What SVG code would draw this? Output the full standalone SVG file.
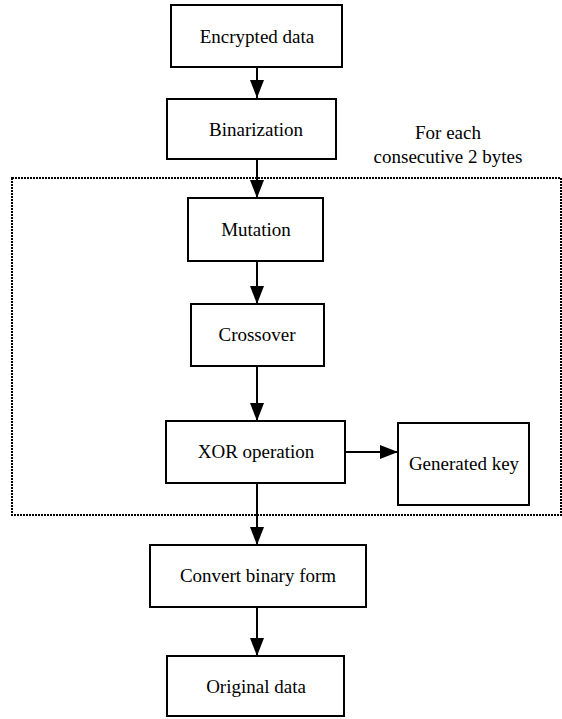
<svg xmlns="http://www.w3.org/2000/svg" width="562" height="719" viewBox="0 0 562 719">
<defs>
<marker id="ah" markerUnits="userSpaceOnUse" markerWidth="18" markerHeight="14" refX="18" refY="7" orient="auto">
<path d="M0,0 L18,7 L0,14 Z" fill="#000"/>
</marker>
<style>
.box{fill:#fff;stroke:#000;stroke-width:2}
.c{stroke:#000;stroke-width:2;fill:none;marker-end:url(#ah)}
.dot{fill:none;stroke:#000;stroke-width:2;stroke-dasharray:2 1}
</style>
</defs>
<rect width="562" height="719" fill="#fff"/>
<g font-family="'Liberation Serif', 'Times New Roman', 'DejaVu Serif', serif" font-size="19" fill="#000" text-anchor="middle">
<g id="loop">
<rect class="dot" x="12" y="178" width="549" height="337"/>
<text x="448" y="139">For each</text>
<text x="448" y="163">consecutive 2 bytes</text>
</g>
<g id="connectors">
<line class="c" x1="257" y1="67" x2="257" y2="98"/>
<line class="c" x1="257" y1="159" x2="257" y2="198"/>
<line class="c" x1="257" y1="261" x2="257" y2="304"/>
<line class="c" x1="257" y1="366" x2="257" y2="421"/>
<line class="c" x1="257" y1="483" x2="257" y2="545"/>
<line class="c" x1="257" y1="607" x2="257" y2="656"/>
<line class="c" x1="345" y1="452" x2="398" y2="452"/>
</g>
<g id="n1"><rect class="box" x="171" y="5" width="171" height="62"/><text x="257" y="43">Encrypted data</text></g>
<g id="n2"><rect class="box" x="167" y="99" width="169" height="60"/><text x="256" y="136">Binarization</text></g>
<g id="n3"><rect class="box" x="188" y="198" width="135" height="63"/><text x="256" y="236">Mutation</text></g>
<g id="n4"><rect class="box" x="191" y="304" width="133" height="62"/><text x="257" y="341">Crossover</text></g>
<g id="n5"><rect class="box" x="166" y="421" width="179" height="62"/><text x="256" y="458">XOR operation</text></g>
<g id="n6"><rect class="box" x="398" y="423" width="131" height="82"/><text x="464" y="470">Generated key</text></g>
<g id="n7"><rect class="box" x="150" y="545" width="216" height="62"/><text x="258" y="582">Convert binary form</text></g>
<g id="n8"><rect class="box" x="167" y="656" width="177" height="60"/><text x="256" y="693">Original data</text></g>
</g>
</svg>
